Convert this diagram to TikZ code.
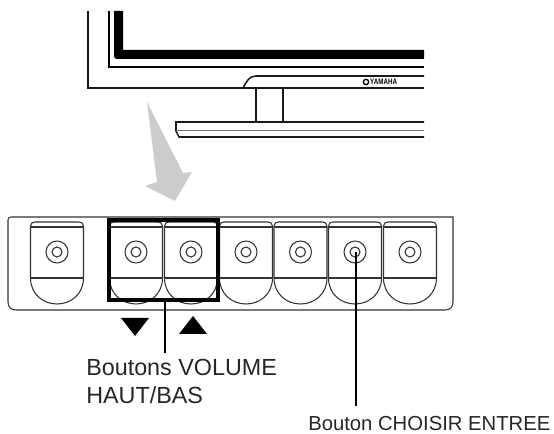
\documentclass[tikz,border=0pt]{standalone}
\usepackage{fontspec}
\setmainfont{Liberation Sans}
\usetikzlibrary{positioning,calc}

\begin{document}
\begin{tikzpicture}[
    x=0.75pt, y=-0.75pt,
    frame/.style={line width=1.15pt, black!90},
    btnline/.style={line width=0.8pt, black!80},
    hilite/.style={draw, line width=2.4pt, rectangle, minimum width=81.75pt, minimum height=60pt, inner sep=0pt},
    ring/.style={draw, circle, line width=0.8pt, black!80, inner sep=0pt},
    leader/.style={line width=2.2pt},
    marker/.style={fill=black},
    label/.style={anchor=base west, inner sep=0pt, text=black!85},
    hint/.style={fill=black!20}
]
\useasboundingbox (0,0) rectangle (554,434);

% Monitor
\draw[frame] (88,11) -- (88,88) -- (424,88);
\draw[line width=1.6pt] (109,11) -- (109,67) -- (424,67);
\fill (114,11) -- (114,56) .. controls (114,58) and (115,59) .. (117,59) -- (424,59) -- (424,50) -- (123,50) -- (123,11) -- cycle;
\draw[frame] (243,88) .. controls (247,81) and (249,76) .. (256,76) -- (424,76);
\draw[frame] (256,88) -- (256,122);
\draw[frame] (283,88) -- (283,122);
\draw[frame] (424,122) -- (176,122) -- (176,131) -- (179,137) -- (424,137);
\draw[line width=0.75pt, black!55] (176,131) -- (424,131);

% Logo
\node[circle, draw, line width=1pt, inner sep=0pt, minimum size=4pt] (logomark) at (366,82) {};
\node[right=0.5pt of logomark, inner sep=0pt, font=\bfseries\fontsize{6}{6}\selectfont, xscale=.78] (logo) {YAMAHA};

% Big arrow
\fill[hint] (147,102) -- (183,173) -- (192,172) -- (175,201) -- (145,186) -- (157,182) -- cycle;

% Panel
\draw[btnline] (453,217) -- (453,302) .. controls (453,307) and (450,310) .. (445,310) -- (16,310) .. controls (11,310) and (8,307) .. (8,302) -- (8,220) .. controls (8,218) and (9,217) .. (11,217) -- cycle;

% Buttons
\foreach \cx/\name in {57/a,136/b,191/c,246/d,300.5/e,355/f,410/g} {
    \begin{scope}[shift={(\cx,0)}]
        \draw[btnline] (-26.5,278) -- (-26.5,226) .. controls (-26.5,223) and (-24,222) .. (-22,222) -- (22,222) .. controls (24,222) and (26.5,223) .. (26.5,226) -- (26.5,278) .. controls (26.5,294) and (14,304) .. (0,304) .. controls (-14,304) and (-26.5,294) .. (-26.5,278) -- cycle;
        \draw[btnline] (-26.5,227) -- (26.5,227);
        \draw[btnline] (-26.5,278) -- (26.5,278);
        \node[ring, minimum size=16.5pt] (outer\name) at (0,252) {};
        \node[ring, minimum size=7.5pt] (inner\name) at (0,252) {};
    \end{scope}
}

% Selected pair
\node[hilite] (pair) at (163.5,260) {};
\fill[marker] (121,318) -- (149,318) -- (135,336) -- cycle;
\fill[marker] (179,334) -- (207,334) -- (193,316) -- cycle;

% Labels
\node[label, font=\fontsize{17.5}{21}\selectfont] (vol) at (86,376) {Boutons VOLUME};
\node[label, font=\fontsize{17.5}{21}\selectfont] (volb) at (86,404) {HAUT/BAS};
\node[label, font=\fontsize{15.2}{18}\selectfont] (sel) at (308,431) {Bouton CHOISIR ENTREE};

\coordinate (volend) at (165,353);
\coordinate (selend) at (356,406);
\draw[leader] (volend |- pair.south) -- (volend);
\draw[leader] (selend |- innerf.center) -- (selend);

\end{tikzpicture}
\end{document}
